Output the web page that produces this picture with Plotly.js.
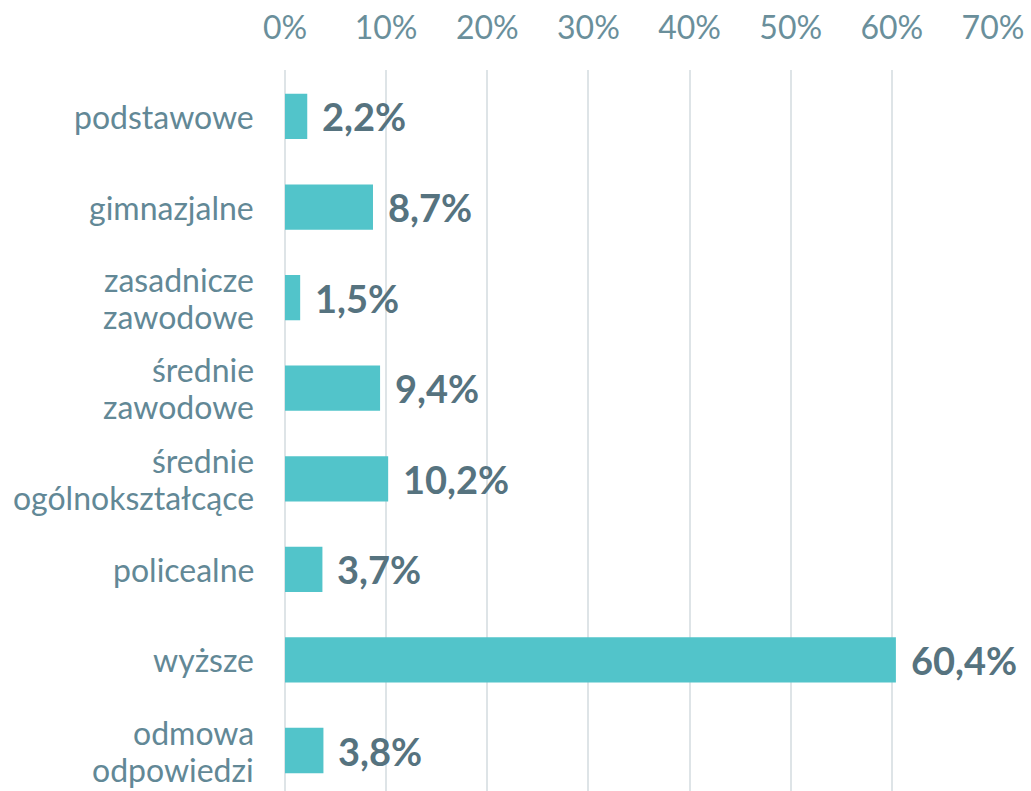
<!DOCTYPE html>
<html>
<head>
<meta charset="utf-8">
<script src="https://cdn.plot.ly/plotly-3.0.1.min.js"></script>
<style>html,body{margin:0;padding:0;background:#fff;}#chart{width:1031px;height:791px;}</style>
</head>
<body>
<div id="chart"></div>
<script>
const categories = ["podstawowe", "gimnazjalne", "zasadnicze zawodowe", "średnie zawodowe", "średnie ogólnokształcące", "policealne", "wyższe", "odmowa odpowiedzi"];
const categoryLines = [["podstawowe"], ["gimnazjalne"], ["zasadnicze", "zawodowe"], ["średnie", "zawodowe"], ["średnie", "ogólnokształcące"], ["policealne"], ["wyższe"], ["odmowa", "odpowiedzi"]];
const values = [2.2, 8.7, 1.5, 9.4, 10.2, 3.7, 60.4, 3.8];
const xTicks = [0, 10, 20, 30, 40, 50, 60, 70];

const fmt = v => v.toFixed(1).replace('.', ',') + '%';

const trace = {
  type: 'bar',
  orientation: 'h',
  x: values,
  y: categories,
  marker: {color: '#52C4CA'},
  hoverinfo: 'none',
  width: 0.5
};

const valueAnnotations = values.map((v, i) => ({
  x: v, y: categories[i], xref: 'x', yref: 'y',
  text: fmt(v), showarrow: false, xanchor: 'left', yanchor: 'middle',
  xshift: 13,
  font: {family: 'Lato', size: 38, color: '#56737F', weight: 'bold'}
}));

const LINE_GAP = 37;
const labelAnnotations = [];
categoryLines.forEach((lines, i) => {
  lines.forEach((line, j) => {
    labelAnnotations.push({
      x: 0, y: categories[i], xref: 'paper', yref: 'y',
      text: line, showarrow: false, xanchor: 'right', yanchor: 'middle',
      xshift: -29, yshift: ((lines.length - 1) / 2 - j) * LINE_GAP,
      font: {family: 'Lato', size: 32, color: '#628896'}
    });
  });
});

const layout = {
  width: 1031, height: 791,
  margin: {l: 285, r: 38, t: 70, b: 0},
  paper_bgcolor: '#fff', plot_bgcolor: '#fff',
  showlegend: false,
  font: {family: 'Lato', color: '#628896'},
  xaxis: {
    side: 'top', range: [0, 70], tickvals: xTicks, ticktext: xTicks.map(t => t + '%'),
    showgrid: true, gridcolor: '#DEE4E7', gridwidth: 2, zeroline: true, zerolinecolor: '#DEE4E7', zerolinewidth: 2,
    showline: false, ticks: '', ticklabelstandoff: 24,
    tickfont: {family: 'Lato', size: 32, color: '#6A8F9B'}, fixedrange: true
  },
  yaxis: {
    type: 'category', categoryorder: 'array', categoryarray: categories,
    range: [7.447, -0.513], showgrid: false, zeroline: false, showline: false,
    showticklabels: false, ticks: '', fixedrange: true
  },
  annotations: labelAnnotations.concat(valueAnnotations)
};

Plotly.newPlot('chart', [trace], layout, {displayModeBar: false, staticPlot: true});
</script>
</body>
</html>
